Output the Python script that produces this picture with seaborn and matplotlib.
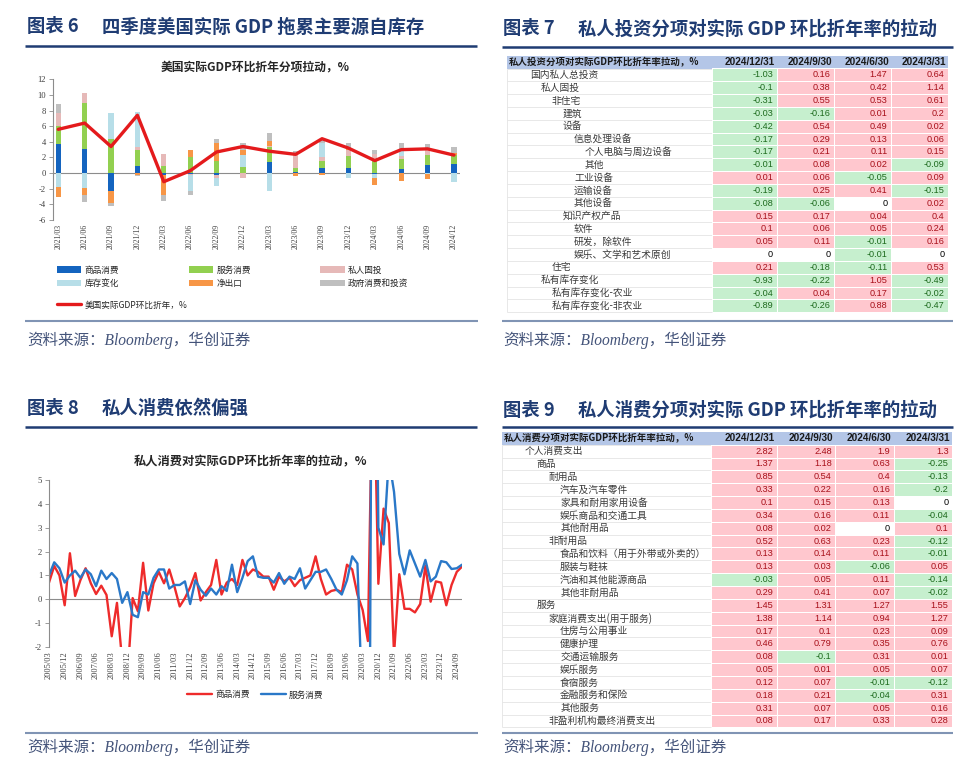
import numpy as np
import matplotlib
matplotlib.use('Agg')
import matplotlib.pyplot as plt
import seaborn as sns
from matplotlib.colors import ListedColormap
from matplotlib.patches import Rectangle
from matplotlib.lines import Line2D
from matplotlib.patches import Patch

# ---------------- data: chart 6 (stacked bars + line) ----------------
q_labels1 = ['2021/03', '2021/06', '2021/09', '2021/12', '2022/03', '2022/06', '2022/09', '2022/12',
             '2023/03', '2023/06', '2023/09', '2023/12', '2024/03', '2024/06', '2024/09', '2024/12']
goods = [3.7, 3.1, -2.3, 0.9, -0.2, -0.1, -0.3, 0.0, 1.4, 0.1, 0.6, 0.6, -0.1, 0.5, 1.0, 1.2]
services = [2.3, 5.9, 4.3, 2.0, 0.9, 2.0, 1.5, 0.8, 2.0, 0.5, 1.0, 1.6, 1.5, 1.3, 1.3, 1.1]
fixed_inv = [1.7, 1.2, 0.0, 0.4, 1.6, -0.1, -0.3, -0.6, 0.1, 1.9, 0.4, 0.8, 0.9, 0.4, 0.7, 0.0]
inventory = [-1.8, -1.9, 3.4, 4.5, -0.1, -2.1, -1.1, 1.5, -2.3, 0.0, 1.8, -0.6, -0.5, 0.8, -0.1, -1.2]
net_exports = [-1.3, -0.9, -1.5, -0.3, -2.5, 1.0, 2.4, 0.6, 0.6, -0.4, -0.2, 0.1, -0.9, -1.0, -0.7, 0.3]
government = [1.2, -0.9, -0.45, -0.1, -0.8, -0.5, 0.5, 1.0, 1.0, 0.3, 0.6, 0.7, 0.6, 0.9, 0.7, 0.7]
gdp = [5.6, 6.4, 3.4, 7.4, -1.1, 0.3, 2.7, 3.4, 2.8, 2.4, 4.4, 3.2, 1.6, 3.0, 3.1, 2.3]
bar_names = ['商品消费', '服务消费', '私人固投', '库存变化', '净出口', '政府消费和投资']
gdp_name = '美国实际GDP环比折年，%'

# ---------------- data: chart 8 (lines, 2005Q1-2024Q4) ----------------
goods_pce = [0.7, 1.4, 1.0, -0.25, 1.93, 0.14, 0.8, 1.3, 0.67, 0.22,
             0.57, 0.18, -1.55, -0.15, -2.6, -3.3, 0.05, -0.5, 1.53, -0.47,
             0.67, 1.15, 0.67, 1.25, 0.53, -0.3, 0.05, 0.5, 1.1, -0.05,
             0.3, 0.6, 1.65, 0.2, 0.7, 0.85, 0.6, 1.65, 1.0, 1.25,
             1.15, 0.95, 0.95, 0.4, 0.95, 0.75, 0.9, 0.55, 0.8, 0.9,
             1.0, 1.8, 0.85, 0.2, 0.35, 0.4, 0.3, 1.45, 1.25, 0.2,
             -0.45, -1.75, 11.0, 0.65, 3.8, 3.2, -2.3, 1.05, -0.4, -0.4,
             -0.55, -0.2, 1.4, -0.1, 0.75, 0.7, -0.25, 0.6, 1.15, 1.37]
services_pce = [1.0, 1.55, 1.3, 0.7, 1.0, 1.2, 0.9, 1.25, 1.05, 0.55,
                1.2, 0.85, 1.1, 0.85, -0.15, 0.3, -0.65, -0.75, 0.3, 0.2,
                0.9, 1.25, 1.25, 0.45, 0.6, 0.6, 0.75, -0.2, 0.8, 0.4,
                0.15, 0.45, 0.2, 0.55, 0.35, 1.45, 0.3, 0.9, 1.6, 1.8,
                0.95, 0.9, 0.9, 0.7, 1.1, 0.65, 0.95, 0.85, 1.3, 0.45,
                0.8, 1.15, 1.15, 1.25, 0.85, 0.4, 0.2, 0.8, 1.8, 1.5,
                -5.0, -22.0, 25.0, 3.0, 2.3, 5.9, 4.5, 1.9, 1.05, 2.05,
                1.5, 0.95, 1.65, 0.75, 0.95, 1.6, 1.55, 1.27, 1.3, 1.45]
q_ticks8 = ['2005/03', '2005/12', '2006/09', '2007/06', '2008/03', '2008/12', '2009/09', '2010/06',
            '2011/03', '2011/12', '2012/09', '2013/06', '2014/03', '2014/12', '2015/09', '2016/06',
            '2017/03', '2017/12', '2018/09', '2019/06', '2020/03', '2020/12', '2021/09', '2022/06',
            '2023/03', '2023/12', '2024/09']
line_names = ['商品消费', '服务消费']

# ---------------- data: table 7 ----------------
dates = ['2024/12/31', '2024/9/30', '2024/6/30', '2024/3/31']
inv_title = '私人投资分项对实际GDP环比折年率拉动，%'
inv_labels = ['国内私人总投资', '私人固投', '非住宅', '建筑', '设备', '信息处理设备', '个人电脑与周边设备',
              '其他', '工业设备', '运输设备', '其他设备', '知识产权产品', '软件', '研发，除软件',
              '娱乐、文学和艺术原创', '住宅', '私有库存变化', '私有库存变化-农业', '私有库存变化-非农业']
inv_levels = [0, 1, 2, 3, 3, 4, 5, 5, 4, 4, 4, 3, 4, 4, 4, 2, 1, 2, 2]
inv_q4 = [-1.03, -0.1, -0.31, -0.03, -0.42, -0.17, -0.17, -0.01, 0.01, -0.19, -0.08, 0.15, 0.1, 0.05, 0, 0.21, -0.93, -0.04, -0.89]
inv_q3 = [0.16, 0.38, 0.55, -0.16, 0.54, 0.29, 0.21, 0.08, 0.06, 0.25, -0.06, 0.17, 0.06, 0.11, 0, -0.18, -0.22, 0.04, -0.26]
inv_q2 = [1.47, 0.42, 0.53, 0.01, 0.49, 0.13, 0.11, 0.02, -0.05, 0.41, 0, 0.04, 0.05, -0.01, -0.01, -0.11, 1.05, 0.17, 0.88]
inv_q1 = [0.64, 1.14, 0.61, 0.2, 0.02, 0.06, 0.15, -0.09, 0.09, -0.15, 0.02, 0.4, 0.24, 0.16, 0, 0.53, -0.49, -0.02, -0.47]

# ---------------- data: table 9 ----------------
pce_title = '私人消费分项对实际GDP环比折年率拉动，%'
pce_labels = ['个人消费支出', '商品', '耐用品', '汽车及汽车零件', '家具和耐用家用设备', '娱乐商品和交通工具',
              '其他耐用品', '非耐用品', '食品和饮料（用于外带或外卖的）', '服装与鞋袜', '汽油和其他能源商品',
              '其他非耐用品', '服务', '家庭消费支出(用于服务)', '住房与公用事业', '健康护理', '交通运输服务',
              '娱乐服务', '食宿服务', '金融服务和保险', '其他服务', '非盈利机构最终消费支出']
pce_levels = [0, 1, 2, 3, 3, 3, 3, 2, 3, 3, 3, 3, 1, 2, 3, 3, 3, 3, 3, 3, 3, 2]
pce_q4 = [2.82, 1.37, 0.85, 0.33, 0.1, 0.34, 0.08, 0.52, 0.13, 0.13, -0.03, 0.29, 1.45, 1.38, 0.17, 0.46, 0.08, 0.05, 0.12, 0.18, 0.31, 0.08]
pce_q3 = [2.48, 1.18, 0.54, 0.22, 0.15, 0.16, 0.02, 0.63, 0.14, 0.03, 0.05, 0.41, 1.31, 1.14, 0.1, 0.79, -0.1, 0.01, 0.07, 0.21, 0.07, 0.17]
pce_q2 = [1.9, 0.63, 0.4, 0.16, 0.13, 0.11, 0, 0.23, 0.11, -0.06, 0.11, 0.07, 1.27, 0.94, 0.23, 0.35, 0.31, 0.05, -0.01, -0.04, 0.05, 0.33]
pce_q1 = [1.3, -0.25, -0.13, -0.2, 0, -0.04, 0.1, -0.12, -0.01, 0.05, -0.14, -0.02, 1.55, 1.27, 0.09, 0.76, 0.01, 0.07, -0.12, 0.31, 0.16, 0.28]

# ---------------- style ----------------
sns.set_theme(style='white')
plt.rcParams['font.family'] = ['Noto Sans CJK SC', 'DejaVu Sans']
plt.rcParams['axes.unicode_minus'] = False

HEAD_C = '#1f3c73'
SRC_C = '#44547a'
C_BARS = ['#1464bf', '#92d050', '#e6b9b8', '#b7dee8', '#f79646', '#bfbfbf']
C_GDP = '#e41a1c'
C_RED = '#ee2b2b'
C_BLUE = '#2a78c8'
AX_C = '#8c8c8c'
PINK_BG, GREEN_BG = '#ffc7ce', '#c6efce'
PINK_TX, GREEN_TX = '#a8101a', '#1e6b1e'
HDR_BG = '#b4c6e7'
SERIF = 'Liberation Serif'

W, H = 960, 780
fig = plt.figure(figsize=(9.6, 7.8), dpi=100)
fig.patch.set_facecolor('white')


def fax(x0, y0, x1, y1):
    return fig.add_axes([x0 / W, 1 - y1 / H, (x1 - x0) / W, (y1 - y0) / H])


ov = fax(0, 0, W, H)
ov.set_xlim(0, W)
ov.set_ylim(H, 0)
ov.axis('off')

# ---------------- headings, rules, sources ----------------
heads = [(27, 27, '图表 6', '四季度美国实际 GDP 拖累主要源自库存'),
         (503, 29, '图表 7', '私人投资分项对实际 GDP 环比折年率的拉动'),
         (27, 408, '图表 8', '私人消费依然偏强'),
         (503, 410, '图表 9', '私人消费分项对实际 GDP 环比折年率的拉动')]
for hx, hy, a, b in heads:
    ov.text(hx, hy, a, fontsize=13.2, fontweight='bold', color=HEAD_C, va='center', ha='left')
    ov.text(hx + 75, hy, b, fontsize=13.2, fontweight='bold', color=HEAD_C, va='center', ha='left')

ov.hlines([46, 427], 25, 477, color=HEAD_C, lw=1.8)
ov.hlines([47, 427], 502, 953, color=HEAD_C, lw=1.8)
ov.hlines([321, 733], 25, 478, color='#8094b4', lw=1.5)
ov.hlines([321, 733], 502, 953, color='#8094b4', lw=1.5)
for sx, sy in [(27, 340), (503, 340), (27, 747), (503, 747)]:
    ov.text(sx, sy, '资料来源：Bloomberg，华创证券', fontsize=11.2, style='italic',
            family=[SERIF, 'Noto Sans CJK SC'], color=SRC_C, va='center', ha='left')

# ---------------- chart 6 ----------------
ov.text(255, 67, '美国实际GDP环比折年分项拉动，%', fontsize=8.5, fontweight='bold',
        color='#262626', ha='center', va='center')
ax1 = fax(53, 79.3, 460, 220)
x1 = np.arange(len(q_labels1))
pos_base = np.zeros(len(x1))
neg_base = np.zeros(len(x1))
for vals, col in zip([goods, services, fixed_inv, inventory, net_exports, government], C_BARS):
    v = np.array(vals, dtype=float)
    pos = np.where(v > 0, v, 0.0)
    neg = np.where(v < 0, v, 0.0)
    ax1.bar(x1, pos, bottom=pos_base, width=0.2, color=col, lw=0)
    ax1.bar(x1, neg, bottom=neg_base, width=0.2, color=col, lw=0)
    pos_base += pos
    neg_base += neg
sns.lineplot(x=x1, y=gdp, ax=ax1, color=C_GDP, lw=2.4, legend=False)
ax1.set_xlim(-0.2, 15.23)
ax1.set_ylim(-6, 12)
yt = list(range(-6, 13, 2))
ax1.set_yticks(yt, labels=[str(t) for t in yt], fontsize=6.2, fontfamily=SERIF, color='#404040')
ax1.set_xticks(x1, labels=q_labels1, rotation=90, fontsize=5.6, fontfamily=SERIF, color='#404040')
ax1.tick_params(axis='x', length=0, pad=3)
ax1.tick_params(axis='y', left=True, length=3, width=0.6, color=AX_C, pad=2)
for s in ['top', 'right', 'bottom']:
    ax1.spines[s].set_visible(False)
ax1.spines['left'].set_color(AX_C)
ax1.spines['left'].set_linewidth(0.8)
ax1.axhline(0, color=AX_C, lw=0.8, zorder=0.5)
ax1.set_facecolor('none')

bar_handles = [Patch(facecolor=c, edgecolor='none') for c in C_BARS]
order = [0, 3, 1, 4, 2, 5]
leg1 = ax1.legend([bar_handles[i] for i in order], [bar_names[i] for i in order], ncol=3,
                  loc='upper left', bbox_to_anchor=(57 / W, 1 - 265.5 / H), bbox_transform=fig.transFigure,
                  frameon=False, fontsize=6.2, handlelength=2.83, handleheight=0.7, handletextpad=0.39,
                  columnspacing=8.07, labelspacing=0.55, borderpad=0, borderaxespad=0)
ax1.add_artist(leg1)
ax1.legend([Line2D([], [], color=C_GDP, lw=2.4)], [gdp_name], loc='upper left',
           bbox_to_anchor=(57 / W, 1 - 300.5 / H), bbox_transform=fig.transFigure,
           frameon=False, fontsize=6.2, handlelength=2.83, handletextpad=0.39, borderpad=0, borderaxespad=0)

# ---------------- chart 8 ----------------
ov.text(251, 462, '私人消费对实际GDP环比折年率的拉动，%', fontsize=8.8, fontweight='bold',
        color='#262626', ha='center', va='center')
ax3 = fax(49, 480, 462, 647)
xq = np.arange(len(goods_pce))
sns.lineplot(x=xq, y=goods_pce, ax=ax3, color=C_RED, lw=1.7, legend=False)
sns.lineplot(x=xq, y=services_pce, ax=ax3, color=C_BLUE, lw=1.7, legend=False)
ax3.set_xlim(0, len(xq) - 1)
ax3.set_ylim(-2, 5)
yt3 = list(range(-2, 6))
ax3.set_yticks(yt3, labels=[str(t) for t in yt3], fontsize=6.2, fontfamily=SERIF, color='#404040')
ax3.set_xticks(np.arange(0, len(xq), 3)[:len(q_ticks8)], labels=q_ticks8, rotation=90, fontsize=6,
               fontfamily=SERIF, color='#404040')
ax3.tick_params(axis='x', length=0, pad=3)
ax3.tick_params(axis='y', left=True, length=3, width=0.6, color=AX_C, pad=2)
for s in ['top', 'right', 'bottom']:
    ax3.spines[s].set_visible(False)
ax3.spines['left'].set_color(AX_C)
ax3.spines['left'].set_linewidth(0.8)
ax3.axhline(0, color=AX_C, lw=0.8, zorder=0.5)
ax3.set_facecolor('none')
ax3.legend([Line2D([], [], color=C_RED, lw=1.7), Line2D([], [], color=C_BLUE, lw=1.7)], line_names,
           ncol=2, loc='upper left', bbox_to_anchor=(187 / W, 1 - 690.5 / H), bbox_transform=fig.transFigure,
           frameon=False, fontsize=6.2, handlelength=2.9, handletextpad=0.39, columnspacing=1.25,
           borderpad=0, borderaxespad=0)


# ---------------- tables ----------------
def cell_heatmap(box, vals):
    ax = fax(*box)
    sign = np.sign(vals)
    annot = np.array([[f'{v:g}' for v in row] for row in vals])
    sns.heatmap(sign, ax=ax, cmap=ListedColormap([GREEN_BG, '#ffffff', PINK_BG]), vmin=-1.5, vmax=1.5,
                cbar=False, annot=annot, fmt='', linewidths=0.6, linecolor='#ffffff',
                xticklabels=False, yticklabels=False,
                annot_kws={'fontsize': 6.6, 'family': 'Liberation Sans'})
    for t in ax.texts:
        x, y = t.get_position()
        j, i = int(x), int(y)
        v = vals[i, j]
        t.set_color(PINK_TX if v > 0 else (GREEN_TX if v < 0 else '#000000'))
        t.set_ha('right')
        t.set_x(j + 0.94)
    return ax


def draw_table(top, hdr_h, row_h, x_left, edges, title, labels, levels, cols, indent0, step):
    n = len(labels)
    ov.add_patch(Rectangle((x_left, top), edges[-1] - x_left, hdr_h, facecolor=HDR_BG, lw=0))
    ov.text(x_left + 2, top + hdr_h / 2, title, fontsize=6.8, fontweight='bold', ha='left', va='center',
            color='#1a1a1a')
    for j, d in enumerate(dates):
        ov.text(edges[j + 1] - 2, top + hdr_h / 2, d, fontsize=7.2, fontweight='bold', ha='right',
                va='center', color='#1a1a1a', family='Liberation Sans')
    body = top + hdr_h
    for i, (lab, lev) in enumerate(zip(labels, levels)):
        ov.text(indent0 + lev * step, body + (i + 0.5) * row_h, lab, fontsize=7, ha='left', va='center',
                color='#3a3a3a')
    ov.hlines([body + k * row_h for k in range(n + 1)], x_left, edges[0], color='#e4e4e4', lw=0.6)
    ov.vlines([x_left], body, body + n * row_h, color='#e4e4e4', lw=0.6)
    vals = np.array(cols, dtype=float).T
    bottom = body + n * row_h
    cell_heatmap((edges[0], body, edges[1], bottom), vals[:, :1])
    cell_heatmap((edges[1], body, edges[-1], bottom), vals[:, 1:])


draw_table(56, 12.5, 12.83, 507, [712, 777, 834, 891, 948], inv_title, inv_labels, inv_levels,
           [inv_q4, inv_q3, inv_q2, inv_q1], 530, 11)
draw_table(431.5, 13.2, 12.85, 502, [711, 777, 835, 893, 952], pce_title, pce_labels, pce_levels,
           [pce_q4, pce_q3, pce_q2, pce_q1], 525, 11.7)

fig.savefig('out.png', dpi=100, facecolor='white')
